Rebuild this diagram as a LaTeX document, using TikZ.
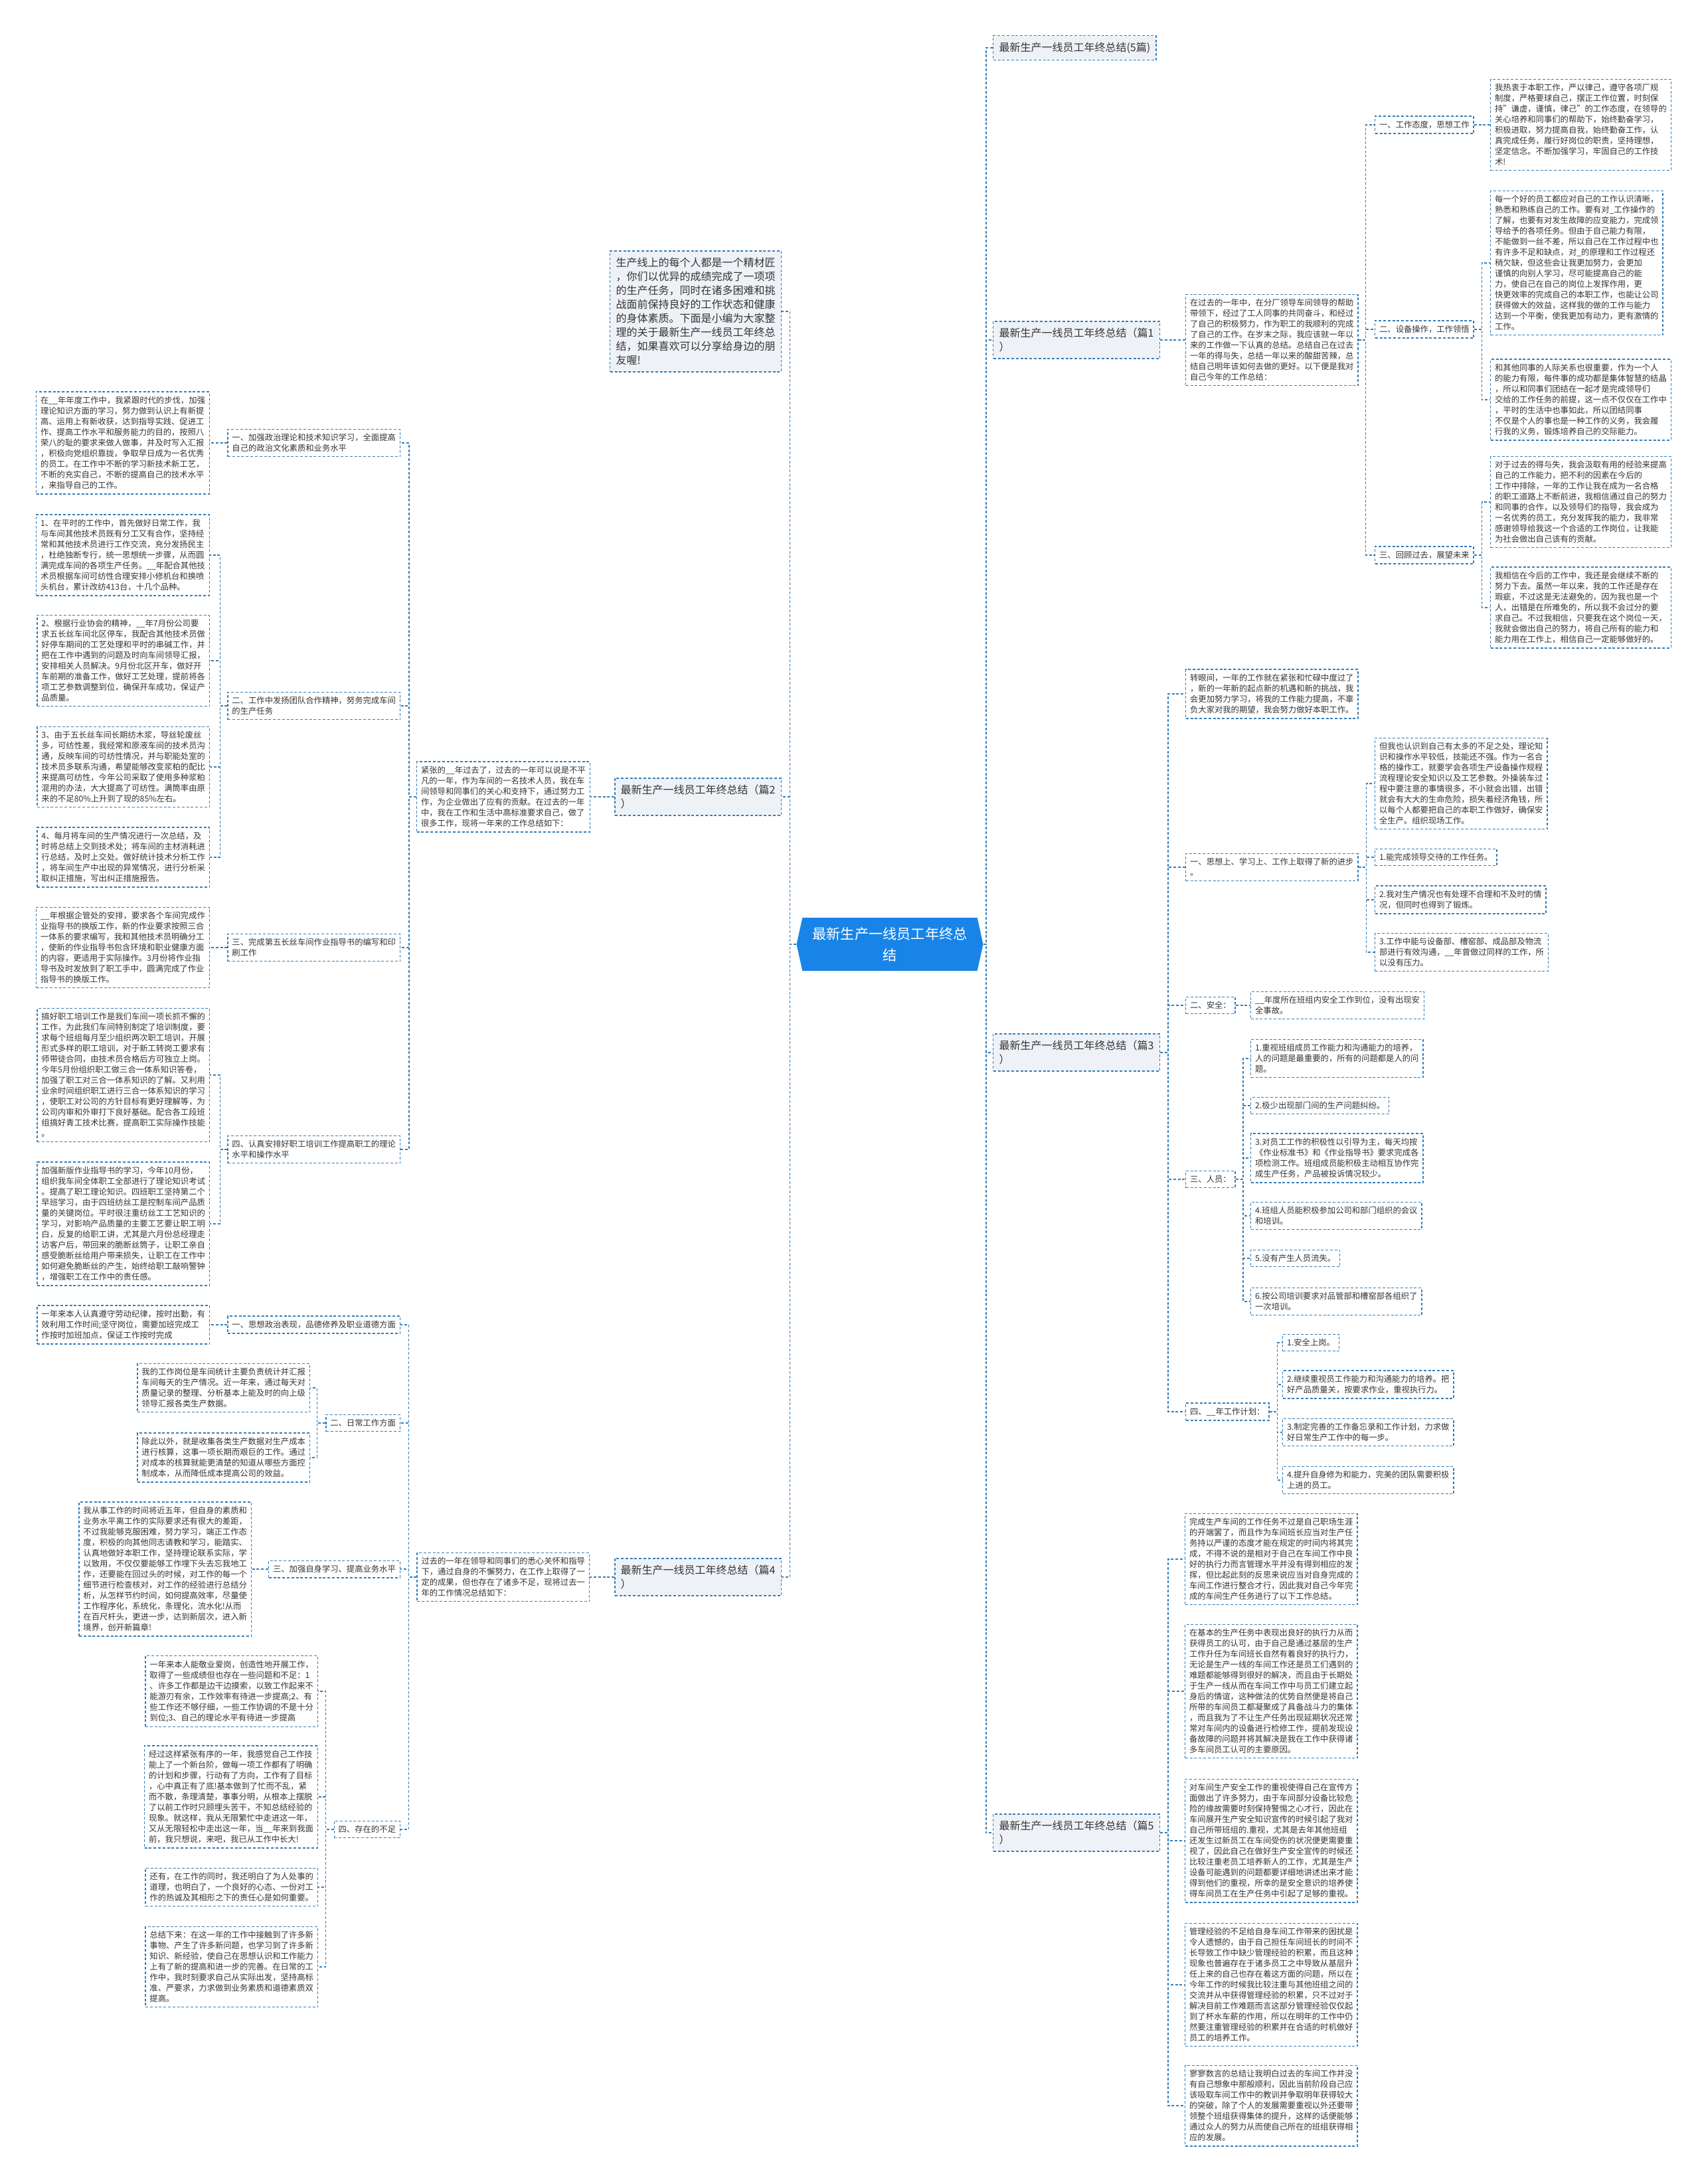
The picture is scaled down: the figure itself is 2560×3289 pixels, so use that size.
\documentclass[tikz,border=0pt]{standalone}
\usepackage{fontspec}
\setmainfont{Noto Sans CJK SC}
\usetikzlibrary{shapes.symbols}

\definecolor{linkblue}{RGB}{52,126,186}
\definecolor{headfill}{RGB}{238,242,247}
\definecolor{rootblue}{RGB}{24,132,232}
\definecolor{txtgray}{RGB}{51,51,51}

\tikzset{
  link/.style={linkblue, line width=0.35mm, dash pattern=on 1mm off 0.7mm},
  leafbox/.style={draw=linkblue, line width=0.35mm, dash pattern=on 1mm off 0.7mm,
    text=txtgray, align=left, inner xsep=1.6mm, inner ysep=1.75mm,
    font=\fontsize{3.08mm}{4mm}\selectfont},
  headbox/.style={leafbox, fill=headfill, inner xsep=2.2mm, inner ysep=2.5mm,
    font=\fontsize{4mm}{5.25mm}\selectfont},
  rootbox/.style={shape=signal, signal to=east and west, signal pointer angle=155,
    fill=rootblue, text=white, align=center, inner sep=0pt,
    minimum width=70.25mm, minimum height=20mm,
    font=\fontsize{5.3mm}{8mm}\selectfont}
}

\begin{document}
\begin{tikzpicture}[x=0.25mm, y=-0.25mm]
\useasboundingbox (0,0) rectangle (2560,3289);

% centre
\node[rootbox] (root) at (1340,1422) {最新生产一线员工年终总\\结};

% left: intro, part 2, part 4
\node[headbox, anchor=east] (intro) at (1177,469) {生产线上的每个人都是一个精材匠\\，你们以优异的成绩完成了一项项\\的生产任务，同时在诸多困难和挑\\战面前保持良好的工作状态和健康\\的身体素质。下面是小编为大家整\\理的关于最新生产一线员工年终总\\结，如果喜欢可以分享给身边的朋\\友喔!};
\node[headbox, anchor=east] (t2) at (1177,1200) {最新生产一线员工年终总结（篇2\\）};
\node[headbox, anchor=east] (t4) at (1177,2375) {最新生产一线员工年终总结（篇4\\）};

% part 2
\node[leafbox, anchor=east] (s2) at (889,1200) {紧张的\_\_年过去了，过去的一年可以说是不平\\凡的一年，作为车间的一名技术人员，我在车\\间领导和同事们的关心和支持下，通过努力工\\作，为企业做出了应有的贡献。在过去的一年\\中，我在工作和生活中高标准要求自己，做了\\很多工作，现将一年来的工作总结如下：};
\node[leafbox, anchor=east] (L2a) at (603,667) {一、加强政治理论和技术知识学习，全面提高\\自己的政治文化素质和业务水平};
\node[leafbox, anchor=east] (L2b) at (603,1063) {二、工作中发扬团队合作精神，努务完成车间\\的生产任务};
\node[leafbox, anchor=east] (L2c) at (603,1427) {三、完成第五长丝车间作业指导书的编写和印\\刷工作};
\node[leafbox, anchor=east] (L2d) at (603,1731) {四、认真安排好职工培训工作提高职工的理论\\水平和操作水平};

\node[leafbox, anchor=east] (a1) at (316,667) {在\_\_年年度工作中，我紧跟时代的步伐，加强\\理论知识方面的学习，努力做到认识上有新提\\高、运用上有新收获，达到指导实践、促进工\\作、提高工作水平和服务能力的目的，按照八\\荣八的耻的要求来做人做事，并及时写入汇报\\，积极向党组织靠拢，争取早日成为一名优秀\\的员工。在工作中不断的学习新技术新工艺，\\不断的充实自己，不断的提高自己的技术水平\\，来指导自己的工作。};
\node[leafbox, anchor=east] (b1) at (316,836) {1、在平时的工作中，首先做好日常工作，我\\与车间其他技术员既有分工又有合作，坚持经\\常和其他技术员进行工作交流，充分发扬民主\\，杜绝独断专行，统一思想统一步骤，从而圆\\满完成车间的各项生产任务。\_\_年配合其他技\\术员根据车间可纺性合理安排小修机台和换喷\\头机台，累计改纺413台，十几个品种。};
\node[leafbox, anchor=east] (b2) at (316,995) {2、根据行业协会的精神，\_\_年7月份公司要\\求五长丝车间北区停车，我配合其他技术员做\\好停车期间的工艺处理和平时的串碱工作，并\\把在工作中遇到的问题及时向车间领导汇报，\\安排相关人员解决。9月份北区开车，做好开\\车前期的准备工作，做好工艺处理，提前将各\\项工艺参数调整到位，确保开车成功，保证产\\品质量。};
\node[leafbox, anchor=east] (b3) at (316,1155) {3、由于五长丝车间长期纺木浆，导丝轮废丝\\多，可纺性差，我经常和原液车间的技术员沟\\通，反映车间的可纺性情况，并与职能处室的\\技术员多联系沟通，希望能够改变浆粕的配比\\来提高可纺性，今年公司采取了使用多种浆粕\\混用的办法，大大提高了可纺性。满筒率由原\\来的不足80\%上升到了现的85\%左右。};
\node[leafbox, anchor=east] (b4) at (316,1291) {4、每月将车间的生产情况进行一次总结，及\\时将总结上交到技术处；将车间的主材消耗进\\行总结，及时上交处。做好统计技术分析工作\\，将车间生产中出现的异常情况，进行分析采\\取纠正措施，写出纠正措施报告。};
\node[leafbox, anchor=east] (c1) at (316,1427) {\_\_年根据企管处的安排，要求各个车间完成作\\业指导书的换版工作，新的作业要求按照三合\\一体系的要求编写，我和其他技术员明确分工\\，使新的作业指导书包含环境和职业健康方面\\的内容，更适用于实际操作。3月份将作业指\\导书及时发放到了职工手中，圆满完成了作业\\指导书的换版工作。};
\node[leafbox, anchor=east] (d1) at (316,1619) {搞好职工培训工作是我们车间一项长抓不懈的\\工作，为此我们车间特别制定了培训制度，要\\求每个班组每月至少组织两次职工培训，开展\\形式多样的职工培训，对于新工转岗工要求有\\师带徒合同，由技术员合格后方可独立上岗。\\今年5月份组织职工做三合一体系知识答卷，\\加强了职工对三合一体系知识的了解。又利用\\业余时间组织职工进行三合一体系知识的学习\\，使职工对公司的方针目标有更好理解等，为\\公司内审和外审打下良好基础。配合各工段班\\组搞好青工技术比赛，提高职工实际操作技能\\。};
\node[leafbox, anchor=east] (d2) at (316,1843) {加强新版作业指导书的学习，今年10月份，\\组织我车间全体职工全部进行了理论知识考试\\。提高了职工理论知识。四班职工坚持第二个\\早班学习，由于四班纺丝工是控制车间产品质\\量的关键岗位。平时很注重纺丝工工艺知识的\\学习，对影响产品质量的主要工艺要让职工明\\白，反复的给职工讲，尤其是六月份总经理走\\访客户后，带回来的脆断丝筒子，让职工亲自\\感受脆断丝给用户带来损失，让职工在工作中\\如何避免脆断丝的产生，始终给职工敲响警钟\\，增强职工在工作中的责任感。};

% part 4
\node[leafbox, anchor=east] (s4) at (888,2375) {过去的一年在领导和同事们的悉心关怀和指导\\下，通过自身的不懈努力，在工作上取得了一\\定的成果，但也存在了诸多不足，现将过去一\\年的工作情况总结如下：};
\node[leafbox, anchor=east] (L4a) at (603,1995) {一、思想政治表现，品德修养及职业道德方面};
\node[leafbox, anchor=east] (L4b) at (603,2143) {二、日常工作方面};
\node[leafbox, anchor=east] (L4c) at (603,2363) {三、加强自身学习、提高业务水平};
\node[leafbox, anchor=east] (L4d) at (603,2755) {四、存在的不足};

\node[leafbox, anchor=east] (e1) at (316,1995) {一年来本人认真遵守劳动纪律，按时出勤，有\\效利用工作时间;坚守岗位，需要加班完成工\\作按时加班加点，保证工作按时完成};
\node[leafbox, anchor=east] (f1) at (467,2090) {我的工作岗位是车间统计主要负责统计并汇报\\车间每天的生产情况。近一年来，通过每天对\\质量记录的整理、分析基本上能及时的向上级\\领导汇报各类生产数据。};
\node[leafbox, anchor=east] (f2) at (467,2195) {除此以外，就是收集各类生产数据对生产成本\\进行核算，这事一项长期而艰巨的工作。通过\\对成本的核算就能更清楚的知道从哪些方面控\\制成本，从而降低成本提高公司的效益。};
\node[leafbox, anchor=east] (g1) at (379,2363) {我从事工作的时间将近五年，但自身的素质和\\业务水平离工作的实际要求还有很大的差距，\\不过我能够克服困难，努力学习，端正工作态\\度，积极的向其他同志请教和学习，能踏实、\\认真地做好本职工作，坚持理论联系实际，学\\以致用，不仅仅要能够工作埋下头去忘我地工\\作，还要能在回过头的时候，对工作的每一个\\细节进行检查核对，对工作的经验进行总结分\\析，从怎样节约时间，如何提高效率，尽量使\\工作程序化，系统化，条理化，流水化!从而\\在百尺杆头，更进一步，达到新层次，进入新\\境界，创开新篇章!};
\node[leafbox, anchor=east] (h1) at (479,2547) {一年来本人能敬业爱岗，创造性地开展工作，\\取得了一些成绩但也存在一些问题和不足：1\\、许多工作都是边干边摸索，以致工作起来不\\能游刃有余，工作效率有待进一步提高;2、有\\些工作还不够仔细，一些工作协调的不是十分\\到位;3、自己的理论水平有待进一步提高};
\node[leafbox, anchor=east] (h2) at (479,2706) {经过这样紧张有序的一年，我感觉自己工作技\\能上了一个新台阶，做每一项工作都有了明确\\的计划和步骤，行动有了方向，工作有了目标\\，心中真正有了底!基本做到了忙而不乱，紧\\而不散，条理清楚，事事分明，从根本上摆脱\\了以前工作时只顾埋头苦干，不知总结经验的\\现象。就这样，我从无限繁忙中走进这一年，\\又从无限轻松中走出这一年，当\_\_年来到我面\\前，我只想说，来吧，我已从工作中长大!};
\node[leafbox, anchor=east] (h3) at (479,2842) {还有，在工作的同时，我还明白了为人处事的\\道理，也明白了，一个良好的心态、一份对工\\作的热诚及其相形之下的责任心是如何重要。};
\node[leafbox, anchor=east] (h4) at (479,2962) {总结下来：在这一年的工作中接触到了许多新\\事物、产生了许多新问题，也学习到了许多新\\知识、新经验，使自己在思想认识和工作能力\\上有了新的提高和进一步的完善。在日常的工\\作中，我时刻要求自己从实际出发，坚持高标\\准、严要求，力求做到业务素质和道德素质双\\提高。};

% right: titles
\node[headbox, anchor=west] (t0) at (1495,72) {最新生产一线员工年终总结(5篇)};
\node[headbox, anchor=west] (t1) at (1495,512) {最新生产一线员工年终总结（篇1\\）};
\node[headbox, anchor=west] (t3) at (1495,1585) {最新生产一线员工年终总结（篇3\\）};
\node[headbox, anchor=west] (t5) at (1495,2760) {最新生产一线员工年终总结（篇5\\）};

% part 1
\node[leafbox, anchor=west] (s1) at (1785,512) {在过去的一年中，在分厂领导车间领导的帮助\\带领下，经过了工人同事的共同奋斗，和经过\\了自己的积极努力，作为职工的我顺利的完成\\了自己的工作。在岁末之际，我应该就一年以\\来的工作做一下认真的总结。总结自己在过去\\一年的得与失，总结一年以来的酸甜苦辣，总\\结自己明年该如何去做的更好。以下便是我对\\自己今年的工作总结：};
\node[leafbox, anchor=west] (L1a) at (2070,188) {一、工作态度，思想工作};
\node[leafbox, anchor=west] (L1b) at (2070,496) {二、设备操作，工作领悟};
\node[leafbox, anchor=west] (L1c) at (2070,836) {三、回顾过去，展望未来};
\node[leafbox, anchor=west] (k1) at (2244,188) {我热衷于本职工作，严以律己，遵守各项厂规\\制度，严格要球自己，摆正工作位置，时刻保\\持"谦虚，谨慎，律己"的工作态度，在领导的\\关心培养和同事们的帮助下，始终勤奋学习，\\积极进取，努力提高自我，始终勤奋工作，认\\真完成任务，履行好岗位的职责，坚持理想，\\坚定信念。不断加强学习，牢固自己的工作技\\术!};
\node[leafbox, anchor=west] (k2) at (2244,396) {每一个好的员工都应对自己的工作认识清晰，\\熟悉和熟练自己的工作。要有对\_工作操作的\\了解，也要有对发生故障的应变能力，完成领\\导给予的各项任务。但由于自己能力有限，\\不能做到一丝不差，所以自己在工作过程中也\\有许多不足和缺点，对\_的原理和工作过程还\\稍欠缺，但这些会让我更加努力，会更加\\谨慎的向别人学习，尽可能提高自己的能\\力，使自己在自己的岗位上发挥作用，更\\快更效率的完成自己的本职工作，也能让公司\\获得做大的效益，这样我的做的工作与能力\\达到一个平衡，使我更加有动力，更有激情的\\工作。};
\node[leafbox, anchor=west] (k3) at (2244,602) {和其他同事的人际关系也很重要，作为一个人\\的能力有限，每件事的成功都是集体智慧的结晶\\，所以和同事们团结在一起才是完成领导们\\交给的工作任务的前提，这一点不仅仅在工作中\\，平时的生活中也事如此，所以团结同事\\不仅是个人的事也是一种工作的义务，我会履\\行我的义务，锻炼培养自己的交际能力。};
\node[leafbox, anchor=west] (k4) at (2244,756) {对于过去的得与失，我会汲取有用的经验来提高\\自己的工作能力，把不利的因素在今后的\\工作中排除，一年的工作让我在成为一名合格\\的职工道路上不断前进，我相信通过自己的努力\\和同事的合作，以及领导们的指导，我会成为\\一名优秀的员工，充分发挥我的能力，我非常\\感谢领导给我这一个合适的工作岗位，让我能\\为社会做出自己该有的贡献。};
\node[leafbox, anchor=west] (k5) at (2244,915) {我相信在今后的工作中，我还是会继续不断的\\努力下去。虽然一年以来，我的工作还是存在\\瑕疵，不过这是无法避免的，因为我也是一个\\人，出错是在所难免的，所以我不会过分的要\\求自己。不过我相信，只要我在这个岗位一天，\\我就会做出自己的努力，将自己所有的能力和\\能力用在工作上，相信自己一定能够做好的。};

% part 3
\node[leafbox, anchor=west] (zy) at (1785,1045) {转眼间，一年的工作就在紧张和忙碌中度过了\\，新的一年新的起点新的机遇和新的挑战，我\\会更加努力学习，将我的工作能力提高，不辜\\负大家对我的期望，我会努力做好本职工作。};
\node[leafbox, anchor=west] (L3a) at (1785,1306) {一、思想上、学习上、工作上取得了新的进步\\。};
\node[leafbox, anchor=west] (L3b) at (1785,1514) {二、安全：};
\node[leafbox, anchor=west] (L3c) at (1785,1776) {三、人员：};
\node[leafbox, anchor=west] (L3d) at (1785,2126) {四、\_\_年工作计划：};
\node[leafbox, anchor=west] (m1) at (2070,1180) {但我也认识到自己有太多的不足之处，理论知\\识和操作水平较低，技能还不强。作为一名合\\格的操作工，就要学会各项生产设备操作规程\\流程理论安全知识以及工艺参数。外操装车过\\程中要注意的事情很多，不小就会出错，出错\\就会有大大的生命危险，损失着经济角钱，所\\以每个人都要把自己的本职工作做好，确保安\\全生产。组织现场工作。};
\node[leafbox, anchor=west] (m2) at (2070,1291) {1.能完成领导交待的工作任务。};
\node[leafbox, anchor=west] (m3) at (2070,1355) {2.我对生产情况也有处理不合理和不及时的情\\况，但同时也得到了锻炼。};
\node[leafbox, anchor=west] (m4) at (2070,1434) {3.工作中能与设备部、槽窑部、成品部及物流\\部进行有效沟通，\_\_年曾做过同样的工作，所\\以没有压力。};
\node[leafbox, anchor=west] (n1) at (1883,1514) {\_\_年度所在班组内安全工作到位，没有出现安\\全事故。};
\node[leafbox, anchor=west] (p1) at (1883,1594) {1.重视班组成员工作能力和沟通能力的培养，\\人的问题是最重要的，所有的问题都是人的问\\题。};
\node[leafbox, anchor=west] (p2) at (1883,1665) {2.极少出现部门间的生产问题纠纷。};
\node[leafbox, anchor=west] (p3) at (1883,1744) {3.对员工工作的积极性以引导为主，每天均按\\《作业标准书》和《作业指导书》要求完成各\\项检测工作。班组成员能积极主动相互协作完\\成生产任务，产品被投诉情况较少。};
\node[leafbox, anchor=west] (p4) at (1883,1831) {4.班组人员能积极参加公司和部门组织的会议\\和培训。};
\node[leafbox, anchor=west] (p5) at (1883,1895) {5.没有产生人员流失。};
\node[leafbox, anchor=west] (p6) at (1883,1960) {6.按公司培训要求对品管部和槽窑部各组织了\\一次培训。};
\node[leafbox, anchor=west] (q1) at (1931,2022) {1.安全上岗。};
\node[leafbox, anchor=west] (q2) at (1931,2085) {2.继续重视员工作能力和沟通能力的培养。把\\好产品质量关，按要求作业，重视执行力。};
\node[leafbox, anchor=west] (q3) at (1931,2157) {3.制定完善的工作备忘录和工作计划，力求做\\好日常生产工作中的每一步。};
\node[leafbox, anchor=west] (q4) at (1931,2229) {4.提升自身修为和能力，完美的团队需要积极\\上进的员工。};

% part 5
\node[leafbox, anchor=west] (r1) at (1784,2348) {完成生产车间的工作任务不过是自己职场生涯\\的开端罢了，而且作为车间班长应当对生产任\\务持以严谨的态度才能在规定的时间内将其完\\成，不得不说的是相对于自己在车间工作中良\\好的执行力而言管理水平并没有得到相应的发\\挥，但比起此刻的反思来说应当对自身完成的\\车间工作进行整合才行，因此我对自己今年完\\成的车间生产任务进行了以下工作总结。};
\node[leafbox, anchor=west] (r2) at (1784,2547) {在基本的生产任务中表现出良好的执行力从而\\获得员工的认可，由于自己是通过基层的生产\\工作升任为车间班长自然有着良好的执行力，\\无论是生产一线的车间工作还是员工们遇到的\\难题都能够得到很好的解决，而且由于长期处\\于生产一线从而在车间工作中与员工们建立起\\身后的情谊，这种做法的优势自然便是将自己\\所带的车间员工都凝聚成了具备战斗力的集体\\，而且我为了不让生产任务出现延期状况还常\\常对车间内的设备进行检修工作，提前发现设\\备故障的问题并将其解决是我在工作中获得诸\\多车间员工认可的主要原因。};
\node[leafbox, anchor=west] (r3) at (1784,2772) {对车间生产安全工作的重视使得自己在宣传方\\面做出了许多努力，由于车间部分设备比较危\\险的缘故需要时刻保持警惕之心才行，因此在\\车间展开生产安全知识宣传的时候引起了我对\\自己所带班组的.重视，尤其是去年其他班组\\还发生过新员工在车间受伤的状况便更需要重\\视了，因此自己在做好生产安全宣传的时候还\\比较注重老员工培养新人的工作，尤其是生产\\设备可能遇到的问题都要详细地讲述出来才能\\得到他们的重视，所幸的是安全意识的培养使\\得车间员工在生产任务中引起了足够的重视。};
\node[leafbox, anchor=west] (r4) at (1784,2989) {管理经验的不足给自身车间工作带来的困扰是\\令人遗憾的，由于自己担任车间班长的时间不\\长导致工作中缺少管理经验的积累，而且这种\\现象也普遍存在于诸多员工之中导致从基层升\\任上来的自己也存在着这方面的问题，所以在\\今年工作的时候我比较注重与其他班组之间的\\交流并从中获得管理经验的积累，只不过对于\\解决目前工作难题而言这部分管理经验仅仅起\\到了杯水车薪的作用，所以在明年的工作中仍\\然要注重管理经验的积累并在合适的时机做好\\员工的培养工作。};
\node[leafbox, anchor=west] (r5) at (1784,3171) {寥寥数言的总结让我明白过去的车间工作并没\\有自己想象中那般顺利，因此当前阶段自己应\\该吸取车间工作中的教训并争取明年获得较大\\的突破，除了个人的发展需要重视以外还要带\\领整个班组获得集体的提升，这样的话便能够\\通过众人的努力从而使自己所在的班组获得相\\应的发展。};

% connectors, left
\foreach \n in {intro,t2,t4}
  \draw[link] (root.west) -- ++(-10,0) |- (\n.east);
\draw[link] (t2.west) -- (s2.east);
\foreach \n in {L2a,L2b,L2c,L2d}
  \draw[link] (s2.west) -- ++(-11,0) |- (\n.east);
\draw[link] (L2a.west) -- (a1.east);
\foreach \n in {b1,b2,b3,b4}
  \draw[link] (L2b.west) -- ++(-11,0) |- (\n.east);
\draw[link] (L2c.west) -- (c1.east);
\foreach \n in {d1,d2}
  \draw[link] (L2d.west) -- ++(-11,0) |- (\n.east);
\draw[link] (t4.west) -- (s4.east);
\foreach \n in {L4a,L4b,L4c,L4d}
  \draw[link] (s4.west) -- ++(-12,0) |- (\n.east);
\draw[link] (L4a.west) -- (e1.east);
\foreach \n in {f1,f2}
  \draw[link] (L4b.west) -- ++(-13,0) |- (\n.east);
\draw[link] (L4c.west) -- (g1.east);
\foreach \n in {h1,h2,h3,h4}
  \draw[link] (L4d.west) -- ++(-12,0) |- (\n.east);

% connectors, right
\foreach \n in {t0,t1,t3,t5}
  \draw[link] (root.east) -- ++(4,0) |- (\n.west);
\draw[link] (t1.east) -- (s1.west);
\foreach \n in {L1a,L1b,L1c}
  \draw[link] (s1.east) -- ++(11,0) |- (\n.west);
\draw[link] (L1a.east) -- (k1.west);
\foreach \n in {k2,k3}
  \draw[link] (L1b.east) -- ++(12,0) |- (\n.west);
\foreach \n in {k4,k5}
  \draw[link] (L1c.east) -- ++(12,0) |- (\n.west);
\foreach \n in {zy,L3a,L3b,L3c,L3d}
  \draw[link] (t3.east) -- ++(12,0) |- (\n.west);
\foreach \n in {m1,m2,m3,m4}
  \draw[link] (L3a.east) -- ++(12,0) |- (\n.west);
\draw[link] (L3b.east) -- (n1.west);
\foreach \n in {p1,p2,p3,p4,p5,p6}
  \draw[link] (L3c.east) -- ++(11,0) |- (\n.west);
\foreach \n in {q1,q2,q3,q4}
  \draw[link] (L3d.east) -- ++(12,0) |- (\n.west);
\foreach \n in {r1,r2,r3,r4,r5}
  \draw[link] (t5.east) -- ++(12,0) |- (\n.west);
\end{tikzpicture}
\end{document}
